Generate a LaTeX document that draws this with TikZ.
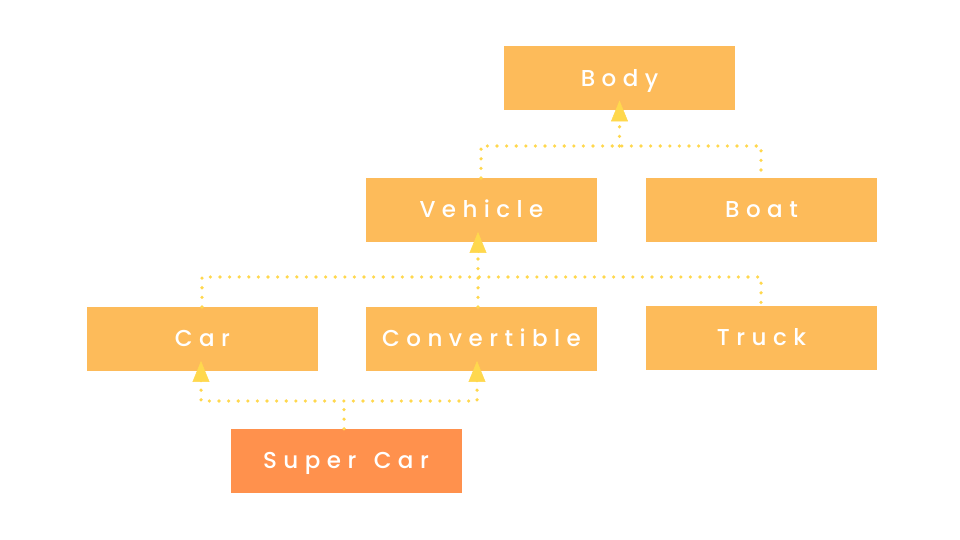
\documentclass[tikz,border=0pt]{standalone}
\usepackage{fontspec}
\setmainfont{Poppins}[UprightFont={* Medium}, LetterSpace=28]
\usetikzlibrary{arrows.meta,calc}
\definecolor{boxc}{HTML}{FDBB5A}
\definecolor{superc}{HTML}{FF914D}
\definecolor{dotc}{HTML}{FFD84D}
\tikzset{
  cls/.style={fill=boxc, draw=none, minimum width=231pt, minimum height=64pt, inner sep=0pt, text=white, font=\fontsize{23}{26}\selectfont, text height=16pt, text depth=0pt},
  dotline/.style={draw=dotc, line width=3.6pt, line cap=round, dash pattern=on 0pt off 9.6pt},
  tipline/.style={draw=dotc, line width=0.5pt, -{Triangle[width=17pt,length=21pt,fill=dotc]}, shorten >=-10pt}
}
\begin{document}
\begin{tikzpicture}[x=1pt,y=1pt]
\useasboundingbox[fill=white] (0,0) rectangle (960,540);
\node[cls] (body) at (619.5,461.5) {Body};
\node[cls] (vehicle) at (481.5,330) {Vehicle};
\node[cls] (boat) at (761.5,330) {Boat};
\node[cls] (car) at (202.5,201) {Car};
\node[cls] (conv) at (481.5,201) {Convertible};
\node[cls] (truck) at (761.5,202) {Truck};
\node[cls, fill=superc] (super) at (346,79) {Super\hspace{5pt} Car};
% junctions
\coordinate (j1) at (619.5,394);
\coordinate (j2) at (478,263);
\coordinate (j3) at (344,139);
\coordinate (vtop) at (481,362);
\coordinate (bt) at (761,362);
\coordinate (cart) at (202,233);
\coordinate (convt) at (478,233);
\coordinate (trt) at (761,234);
\coordinate (vb) at (478,298);
\coordinate (carb) at (201,169);
\coordinate (convb) at (477,169);
\coordinate (bodyb) at (619.5,429.5);
% Body level
\draw[dotline] (vtop) |- (j1) -| (bt);
\draw[dotline] (j1) -- (bodyb);
\draw[tipline] ($(bodyb)+(0,-10)$) -- (bodyb);
% Vehicle level
\draw[dotline] (cart) |- (j2) -| (trt);
\draw[dotline] (convt) -- (j2) -- (vb);
\draw[tipline] ($(vb)+(0,-10)$) -- (vb);
% Super car
\draw[dotline] (super.north -| j3) -- (j3);
\draw[dotline] (carb) |- (j3) -| (convb);
\draw[tipline] ($(carb)+(0,-10)$) -- (carb);
\draw[tipline] ($(convb)+(0,-10)$) -- (convb);
\end{tikzpicture}
\end{document}
